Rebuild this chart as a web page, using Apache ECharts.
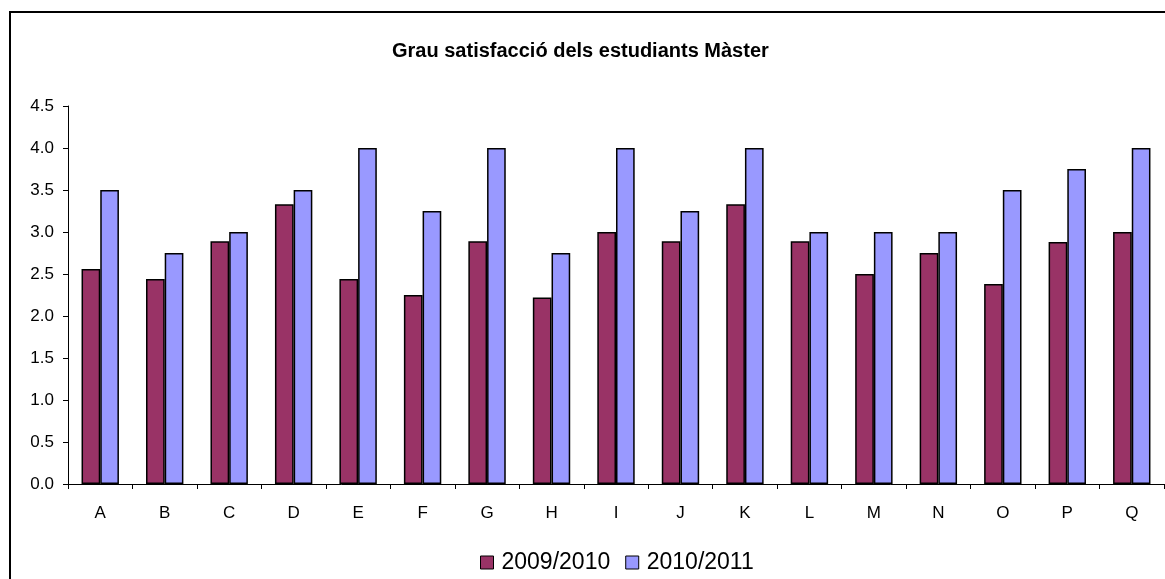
<!DOCTYPE html>
<html>
<head>
<meta charset="utf-8">
<script src="https://cdn.jsdelivr.net/npm/echarts@6/dist/echarts.min.js"></script>
<style>
  html, body { margin: 0; padding: 0; background: #fff; }
  #main { width: 1165px; height: 579px; }
</style>
</head>
<body>
<div id="main"></div>
<script>
const categories = ["A", "B", "C", "D", "E", "F", "G", "H", "I", "J", "K", "L", "M", "N", "O", "P", "Q"];
const curs0910 = [2.56, 2.44, 2.89, 3.33, 2.44, 2.25, 2.89, 2.22, 3.0, 2.89, 3.33, 2.89, 2.5, 2.75, 2.38, 2.88, 3.0];
const curs1011 = [3.5, 2.75, 3.0, 3.5, 4.0, 3.25, 4.0, 2.75, 4.0, 3.25, 4.0, 3.0, 3.0, 3.0, 3.5, 3.75, 4.0];
const seriesNames = ["2009/2010", "2010/2011"];

const font = "'Liberation Sans', Arial, sans-serif";
const chart = echarts.init(document.getElementById("main"));

const option = {
  animation: false,
  backgroundColor: "#fff",
  textStyle: { fontFamily: font, color: "#000" },
  title: {
    text: "Grau satisfacció dels estudiants Màster",
    left: 387,
    top: 36,
    textStyle: { fontFamily: font, fontSize: 20, fontWeight: "bold", color: "#000" }
  },
  legend: {
    bottom: 0,
    left: 475,
    itemWidth: 13,
    itemHeight: 13,
    itemGap: 15,
    icon: "rect",
    textStyle: { fontFamily: font, fontSize: 23, color: "#000", padding: [0, 0, 0, 3] },
    data: seriesNames.map(n => ({ name: n, itemStyle: { borderColor: "#000", borderWidth: 1 } }))
  },
  graphic: [{
    type: "rect",
    shape: { x: 10, y: 12, width: 1300, height: 700 },
    style: { fill: null, stroke: "#000", lineWidth: 2 },
    silent: true
  }],
  grid: { left: 68, right: 1, top: 106, bottom: 95 },
  xAxis: {
    type: "category",
    data: categories,
    axisLine: { lineStyle: { color: "#000", width: 1 } },
    axisTick: { show: true, length: 5, inside: false, lineStyle: { color: "#000" } },
    axisLabel: { color: "#000", fontFamily: font, fontSize: 17, margin: 21 }
  },
  yAxis: {
    type: "value",
    min: 0,
    max: 4.5,
    interval: 0.5,
    axisLine: { show: true, lineStyle: { color: "#000", width: 1 } },
    axisTick: { show: true, length: 5, lineStyle: { color: "#000" } },
    splitLine: { show: false },
    axisLabel: {
      color: "#000", fontFamily: font, fontSize: 17, margin: 14,
      formatter: v => v.toFixed(1)
    }
  },
  series: [
    {
      name: seriesNames[0],
      type: "bar",
      data: curs0910,
      barGap: "0%",
      barCategoryGap: "42%",
      itemStyle: { color: "#993366", borderColor: "#000", borderWidth: 1.5 }
    },
    {
      name: seriesNames[1],
      type: "bar",
      data: curs1011,
      itemStyle: { color: "#9999FF", borderColor: "#000", borderWidth: 1.5 }
    }
  ]
};

chart.setOption(option);
</script>
</body>
</html>
